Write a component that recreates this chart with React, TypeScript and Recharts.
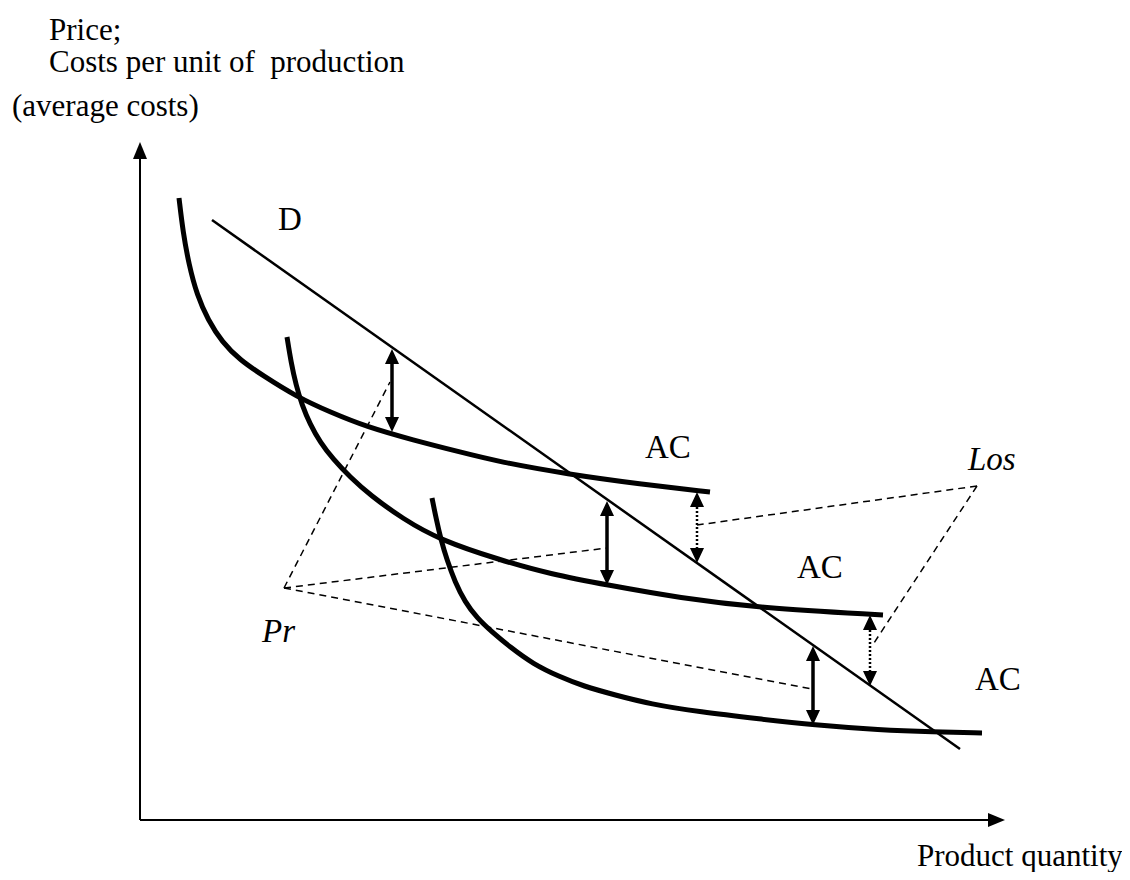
import React from "react";
import {
  ComposedChart,
  Line,
  XAxis,
  YAxis,
  ReferenceLine,
  ReferenceDot,
} from "recharts";

// quantity (q) and price / average cost (p)
const ac1 = [
  { q: 3.9, p: 62.2 }, { q: 4.3, p: 58.8 }, { q: 4.9, p: 55.5 }, { q: 5.7, p: 52.5 },
  { q: 6.8, p: 50.0 }, { q: 8.2, p: 47.8 }, { q: 10.0, p: 46.0 }, { q: 12.2, p: 44.5 },
  { q: 15.7, p: 42.3 }, { q: 19.0, p: 40.8 }, { q: 22.7, p: 39.3 }, { q: 27.3, p: 38.0 },
  { q: 32.0, p: 36.8 }, { q: 36.0, p: 35.8 }, { q: 42.7, p: 34.6 }, { q: 50.0, p: 33.6 },
  { q: 57.0, p: 32.8 },
];

const ac2 = [
  { q: 14.7, p: 48.3 }, { q: 15.1, p: 45.8 }, { q: 15.6, p: 43.5 }, { q: 16.2, p: 41.5 },
  { q: 17.0, p: 39.6 }, { q: 18.0, p: 37.8 }, { q: 19.3, p: 36.1 }, { q: 21.0, p: 34.3 },
  { q: 23.0, p: 32.5 }, { q: 26.3, p: 30.1 }, { q: 30.0, p: 28.0 }, { q: 36.0, p: 26.0 },
  { q: 41.0, p: 24.6 }, { q: 46.7, p: 23.5 }, { q: 54.0, p: 22.2 }, { q: 62.0, p: 21.2 },
  { q: 74.3, p: 20.5 },
];

const ac3 = [
  { q: 29.2, p: 32.2 }, { q: 29.6, p: 30.2 }, { q: 30.1, p: 28.0 }, { q: 30.7, p: 26.0 },
  { q: 31.5, p: 23.8 }, { q: 32.5, p: 21.8 }, { q: 33.7, p: 20.2 }, { q: 35.2, p: 18.8 },
  { q: 37.0, p: 17.3 }, { q: 39.3, p: 15.6 }, { q: 42.0, p: 14.3 }, { q: 44.3, p: 13.4 },
  { q: 47.5, p: 12.5 }, { q: 51.0, p: 11.6 }, { q: 56.0, p: 10.8 }, { q: 62.0, p: 10.1 },
  { q: 67.3, p: 9.5 }, { q: 74.0, p: 9.0 }, { q: 79.3, p: 8.8 }, { q: 84.2, p: 8.7 },
];

const demand = [
  { q: 7.2, p: 60.0 },
  { q: 82.0, p: 7.1 },
];

// profit / loss gaps: quantity, lower end, upper end
const profitGaps = [
  { q: 25.2, from: 38.8, to: 47.1 },
  { q: 46.7, from: 23.5, to: 31.9 },
  { q: 67.3, from: 9.5, to: 17.4 },
];
const lossGaps = [
  { q: 55.7, from: 25.7, to: 32.8 },
  { q: 73.0, from: 13.4, to: 20.5 },
];

const prPoint = { q: 14.4, p: 23.2 };
const prTargets = [
  { q: 25.0, p: 43.8 },
  { q: 46.7, p: 27.2 },
  { q: 67.2, p: 13.1 },
];
const losPoint = { q: 83.7, p: 33.4 };
const losTargets = [
  { q: 55.7, p: 29.5 },
  { q: 73.2, p: 17.4 },
];

const labels = [
  { q: 13.8, p: 59.0, text: "D", italic: false },
  { q: 50.5, p: 36.2, text: "AC", italic: false },
  { q: 65.7, p: 24.2, text: "AC", italic: false },
  { q: 83.5, p: 13.0, text: "AC", italic: false },
  { q: 12.2, p: 17.8, text: "Pr", italic: true },
  { q: 82.8, p: 35.0, text: "Los", italic: true },
];

const FONT = '"Liberation Serif", "Times New Roman", serif';

function arrowHead(x: number, y: number, ux: number, uy: number, len: number, half: number) {
  // tip at (x,y), pointing along (ux,uy)
  const bx = x - ux * len;
  const by = y - uy * len;
  const px = -uy * half;
  const py = ux * half;
  return `${x},${y} ${bx + px},${by + py} ${bx - px},${by - py}`;
}

function makeArrow(opts: { both: boolean; width: number; dash?: string; len: number; half: number }) {
  return (props: any) => {
    const { x1, y1, x2, y2 } = props;
    const dx = x2 - x1;
    const dy = y2 - y1;
    const d = Math.sqrt(dx * dx + dy * dy) || 1;
    const ux = dx / d;
    const uy = dy / d;
    const sx = opts.both ? x1 + ux * (opts.len - 1) : x1;
    const sy = opts.both ? y1 + uy * (opts.len - 1) : y1;
    return (
      <g>
        <line
          x1={sx}
          y1={sy}
          x2={x2 - ux * (opts.len - 1)}
          y2={y2 - uy * (opts.len - 1)}
          stroke="#000"
          strokeWidth={opts.width}
          strokeDasharray={opts.dash}
        />
        <polygon points={arrowHead(x2, y2, ux, uy, opts.len, opts.half)} fill="#000" />
        {opts.both && <polygon points={arrowHead(x1, y1, -ux, -uy, opts.len, opts.half)} fill="#000" />}
      </g>
    );
  };
}

const axisArrow = makeArrow({ both: false, width: 2, len: 17, half: 7 });
const solidArrow = makeArrow({ both: true, width: 3.5, len: 15, half: 7 });
const dottedArrow = makeArrow({ both: true, width: 2.5, dash: "2 2", len: 15, half: 7 });

export default function App() {
  return (
    <div style={{ position: "relative", width: 1114, height: 864 }}>
      <ComposedChart
        width={1114}
        height={864}
        margin={{ top: 0, right: 0, bottom: 52, left: 132 }}
      >
        <XAxis dataKey="q" type="number" domain={[0, 98.2]} hide allowDataOverflow />
        <YAxis type="number" domain={[0, 81.2]} hide allowDataOverflow />

        <ReferenceLine segment={[{ x: 0, y: 0 }, { x: 0, y: 67.8 }]} shape={axisArrow} ifOverflow="visible" />
        <ReferenceLine segment={[{ x: 0, y: 0 }, { x: 86.5, y: 0 }]} shape={axisArrow} ifOverflow="visible" />

        {prTargets.map((t, i) => (
          <Line
            key={`pr${i}`}
            data={[prPoint, t]}
            dataKey="p"
            type="linear"
            stroke="#000"
            strokeWidth={1.5}
            strokeDasharray="7 5"
            dot={false}
            isAnimationActive={false}
          />
        ))}
        {losTargets.map((t, i) => (
          <Line
            key={`los${i}`}
            data={[losPoint, t]}
            dataKey="p"
            type="linear"
            stroke="#000"
            strokeWidth={1.5}
            strokeDasharray="7 5"
            dot={false}
            isAnimationActive={false}
          />
        ))}

        <Line data={ac1} dataKey="p" type="basis" stroke="#000" strokeWidth={5} dot={false} isAnimationActive={false} />
        <Line data={ac2} dataKey="p" type="basis" stroke="#000" strokeWidth={5} dot={false} isAnimationActive={false} />
        <Line data={ac3} dataKey="p" type="basis" stroke="#000" strokeWidth={5} dot={false} isAnimationActive={false} />
        <Line data={demand} dataKey="p" type="linear" stroke="#000" strokeWidth={2.5} dot={false} isAnimationActive={false} />

        {profitGaps.map((g, i) => (
          <ReferenceLine
            key={`pg${i}`}
            segment={[{ x: g.q, y: g.from }, { x: g.q, y: g.to }]}
            shape={solidArrow}
          />
        ))}
        {lossGaps.map((g, i) => (
          <ReferenceLine
            key={`lg${i}`}
            segment={[{ x: g.q, y: g.from }, { x: g.q, y: g.to }]}
            shape={dottedArrow}
          />
        ))}

        {labels.map((l, i) => (
          <ReferenceDot
            key={`lb${i}`}
            x={l.q}
            y={l.p}
            r={1}
            shape={(props: any) => (
              <text
                x={props.cx}
                y={props.cy}
                fontFamily={FONT}
                fontSize={33}
                fontStyle={l.italic ? "italic" : "normal"}
                fill="#000"
              >
                {l.text}
              </text>
            )}
          />
        ))}
      </ComposedChart>

      <svg
        width={1114}
        height={864}
        style={{ position: "absolute", left: 0, top: 0, pointerEvents: "none", overflow: "visible" }}
      >
        <g fontFamily={FONT} fontSize={31} fill="#000">
          <text x={41} y={32}>Price;</text>
          <text x={41} y={64} style={{ whiteSpace: "pre" }}>{"Costs per unit of  production"}</text>
          <text x={4} y={108}>(average costs)</text>
          <text x={909} y={858}>Product quantity</text>
        </g>
      </svg>
    </div>
  );
}
